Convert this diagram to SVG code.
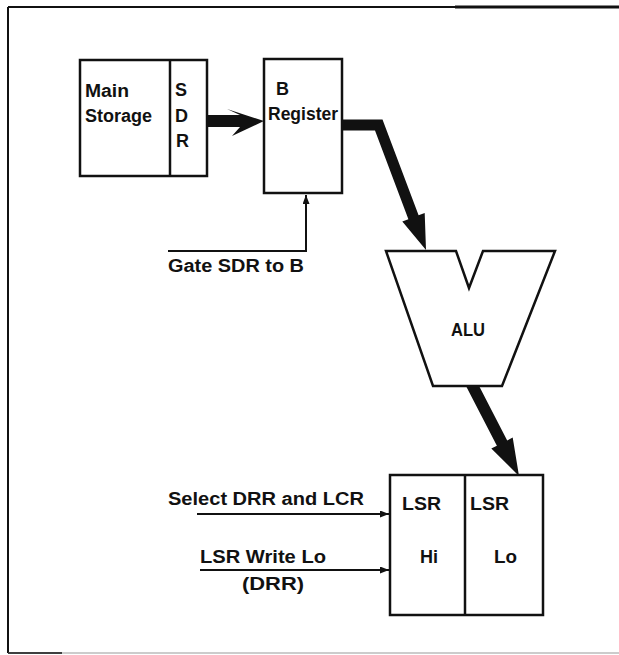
<svg xmlns="http://www.w3.org/2000/svg" width="619" height="655" viewBox="0 0 619 655">
<style>
.bx{fill:none;stroke:#111;stroke-width:2.5}
.ln{fill:none;stroke:#111;stroke-width:2}
.th{fill:#111;stroke:none}
text{font-family:"Liberation Sans",Arial,Helvetica,sans-serif;font-size:18px;font-weight:bold;fill:#111}
</style>
<defs>
<marker id="ah" viewBox="0 0 10 10" refX="10" refY="5" markerWidth="9" markerHeight="7" markerUnits="userSpaceOnUse" orient="auto" preserveAspectRatio="none">
<path d="M0,0 L10,5 L0,10 z" fill="#111"/>
</marker>
</defs>
<rect width="619" height="655" fill="#fff"/>
<g id="frame">
<path d="M8,7 H619" stroke="#111" stroke-width="2" fill="none"/>
<path d="M455,7 H619" stroke="#111" stroke-width="3" fill="none"/>
<path d="M8,7 V653" stroke="#111" stroke-width="2" fill="none"/>
<path d="M8,653 H619" stroke="#bbb" stroke-width="1.5" fill="none"/>
<path d="M8,653 H62" stroke="#111" stroke-width="1.5" fill="none"/>
</g>
<g id="main-storage">
<rect class="bx" x="80" y="60" width="127" height="116"/>
<line class="bx" x1="170" y1="60" x2="170" y2="176"/>
<text x="85" y="97" textLength="44" lengthAdjust="spacingAndGlyphs">Main</text>
<text x="85" y="122" textLength="67" lengthAdjust="spacingAndGlyphs">Storage</text>
<text x="175" y="96">S</text>
<text x="175" y="122">D</text>
<text x="176" y="147">R</text>
</g>
<g id="b-register">
<rect class="bx" x="264" y="59" width="78" height="134"/>
<text x="276" y="95">B</text>
<text x="268" y="120" textLength="70" lengthAdjust="spacingAndGlyphs">Register</text>
</g>
<g id="alu">
<path class="bx" d="M386,251 L456,251 L469,288 L483,251 L555,251 L502,386 L433,386 Z"/>
<text x="451" y="336" textLength="34" lengthAdjust="spacingAndGlyphs">ALU</text>
</g>
<g id="lsr">
<rect class="bx" x="390" y="475" width="153" height="140"/>
<line class="bx" x1="465" y1="475" x2="465" y2="615"/>
<text x="402" y="510" textLength="39" lengthAdjust="spacingAndGlyphs">LSR</text>
<text x="470" y="510" textLength="39" lengthAdjust="spacingAndGlyphs">LSR</text>
<text x="420" y="563" textLength="18" lengthAdjust="spacingAndGlyphs">Hi</text>
<text x="494" y="563" textLength="23" lengthAdjust="spacingAndGlyphs">Lo</text>
</g>
<g id="gate-label">
<text x="168" y="272" textLength="136" lengthAdjust="spacingAndGlyphs">Gate SDR to B</text>
</g>
<g id="select-label">
<text x="168" y="505" textLength="196" lengthAdjust="spacingAndGlyphs">Select DRR and LCR</text>
</g>
<g id="write-label">
<text x="200" y="563" textLength="126" lengthAdjust="spacingAndGlyphs">LSR Write Lo</text>
<text x="242" y="590" textLength="62" lengthAdjust="spacingAndGlyphs">(DRR)</text>
</g>
<g id="connectors">
<polygon class="th" points="207,115 240,115 227,109 264,121 232,136 240,127 207,127"/>
<polygon class="th" points="342,119.5 382.5,119.5 418.6,215.3 424.7,213 426,250 402.3,221.6 408.4,219.3 375,130.5 342,130.5"/>
<polygon class="th" points="466.5,387 479.6,387 507.2,440.4 512.7,437.6 519,476 491.3,448.6 496.9,445.8"/>
<path class="ln" d="M168,251 H306 V195" marker-end="url(#ah)"/>
<path class="ln" d="M197,514 H389" marker-end="url(#ah)"/>
<path class="ln" d="M200,570 H389" marker-end="url(#ah)"/>
</g>
</svg>
